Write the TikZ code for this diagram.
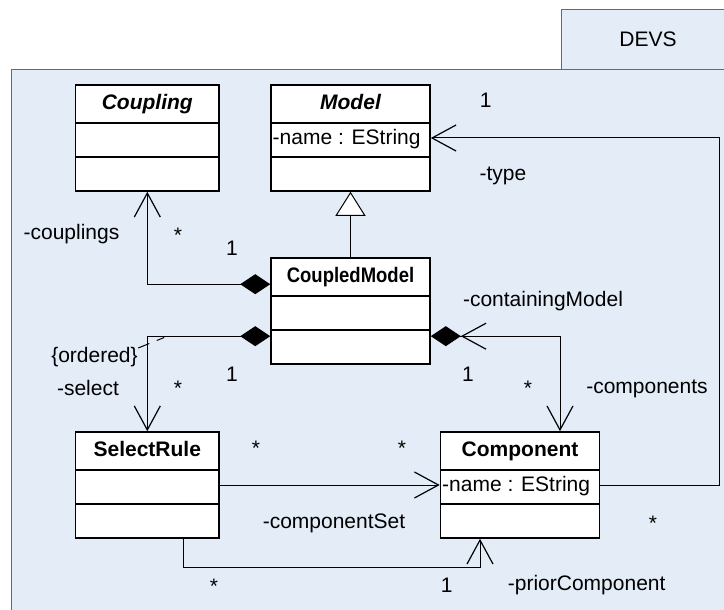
\documentclass[tikz,border=0pt]{standalone}
\usepackage{fontspec}
\setmainfont{Liberation Sans}
\usepackage{graphicx}
\usepackage{tikz}
\usetikzlibrary{arrows.meta,positioning}

\definecolor{pkgfill}{RGB}{228,236,247}
\definecolor{pkgline}{RGB}{105,105,105}

\tikzset{
  umlclass/.style={draw, fill=white, line width=1.6pt, inner sep=0pt,
    minimum width=159pt, minimum height=106pt,
    text height=24.25pt, text depth=81.75pt,
    font=\fontsize{21}{25}\selectfont\bfseries,
    path picture={\draw[line width=1.6pt]
      ([yshift=-38pt]path picture bounding box.north west) -- ([yshift=-38pt]path picture bounding box.north east)
      ([yshift=-72pt]path picture bounding box.north west) -- ([yshift=-72pt]path picture bounding box.north east);}},
  smallclass/.style={umlclass, minimum width=143.5pt},
  attr/.style={anchor=west, inner xsep=2pt, inner ysep=0pt, text height=15pt, text depth=4.5pt},
  lbl/.style={inner sep=0pt, text height=15pt, text depth=4.5pt},
  package/.style={draw=pkgline, fill=pkgfill, line width=1pt}
}

\begin{document}
\begin{tikzpicture}[x=1pt, y=-1pt, >={Straight Barb[length=24pt,width=26pt,line width=1.2pt]},
                    line width=1pt, on grid,
                    every node/.style={font=\fontsize{21}{25}\selectfont}]
%  package frame
  \useasboundingbox (0,0) rectangle (724,610);
  \draw[package] (11.7,70) rectangle (740,630);
  \draw[package] (561.7,9.3) rectangle (740,70);
  \node[lbl] (devs) at (648,41.25) {DEVS};

  \node[smallclass] (coupling)     at (147.3,138)                   {\itshape Coupling};
  \node[umlclass]   (model)        [right=203.2pt of coupling]      {\itshape Model};
  \node[umlclass]   (coupledmodel) [below=173pt of model]           {\scalebox{0.88}[1]{CoupledModel}};
  \node[smallclass] (selectrule)   [below=347pt of coupling]        {SelectRule};
  \node[umlclass]   (component)    [right=372.7pt of selectrule]    {Component};

  \node[attr] (modelname)     at ([yshift=-55pt]model.north west)     {-name : EString};
  \node[attr] (componentname) at ([yshift=-55pt]component.north west) {-name : EString};

  \draw[{Diamond[length=30pt,width=20pt]}->] ([yshift=-27pt]coupledmodel.north west) -| (coupling.south);
  \draw[-{Triangle[length=24pt,width=30pt,fill=white]}] (coupledmodel.north) -- (model.south);
  \draw[{Diamond[length=30pt,width=20pt]}->] ([yshift=-79pt]coupledmodel.north west) -| (selectrule.north);
  \draw[{Diamond[length=30pt,width=20pt]<}->] ([yshift=-79pt]coupledmodel.north east) -| ([xshift=40pt]component.north);
  \draw[->] (selectrule.east) -- (component.west);
  \draw[->] ([xshift=36pt]selectrule.south) -- ++(0,28.5) -| ([xshift=-40pt]component.south);
  \draw[->] (component.east) -- ++(119.3,0) |- (model.east);

  \node[lbl] (couplingsrole)  at (71.5,234)   {-couplings};
  \node[lbl] (couplingsmany)  at (178,236.75) {*};
  \node[lbl] (couplingsone)   at (232,250)    {1};
  \node[lbl] (typeone)        at (485.7,102)  {1};
  \node[lbl] (typerole)       at (503,175)    {-type};
  \node[lbl] (ordered)        at (94.5,357)   {\{ordered\}};
  \node[lbl] (selectrole)     at (88,390)     {-select};
  \node[lbl] (selectmany)     at (178,389.75) {*};
  \node[lbl] (selectone)      at (232,376)    {1};
  \node[lbl] (containingrole) at (543,301)    {-containingModel};
  \node[lbl] (containingone)  at (468,376)    {1};
  \node[lbl] (componentsmany) at (528,389.75) {*};
  \node[lbl] (componentsrole) at (647,388)    {-components};
  \node[lbl] (setmanyleft)    at (256,449.75) {*};
  \node[lbl] (setmanyright)   at (402,449.75) {*};
  \node[lbl] (setrole)        at (334,523)    {-componentSet};
  \node[lbl] (typemany)       at (653,524.75) {*};
  \node[lbl] (priormany)      at (214,587.75) {*};
  \node[lbl] (priorone)       at (446.7,587)  {1};
  \node[lbl] (priorrole)      at (586.7,585)  {-priorComponent};
  \draw[dash pattern=on 12pt off 8pt] ([yshift=9pt]ordered.east) -- ++(26,-10.5);

\end{tikzpicture}
\end{document}
